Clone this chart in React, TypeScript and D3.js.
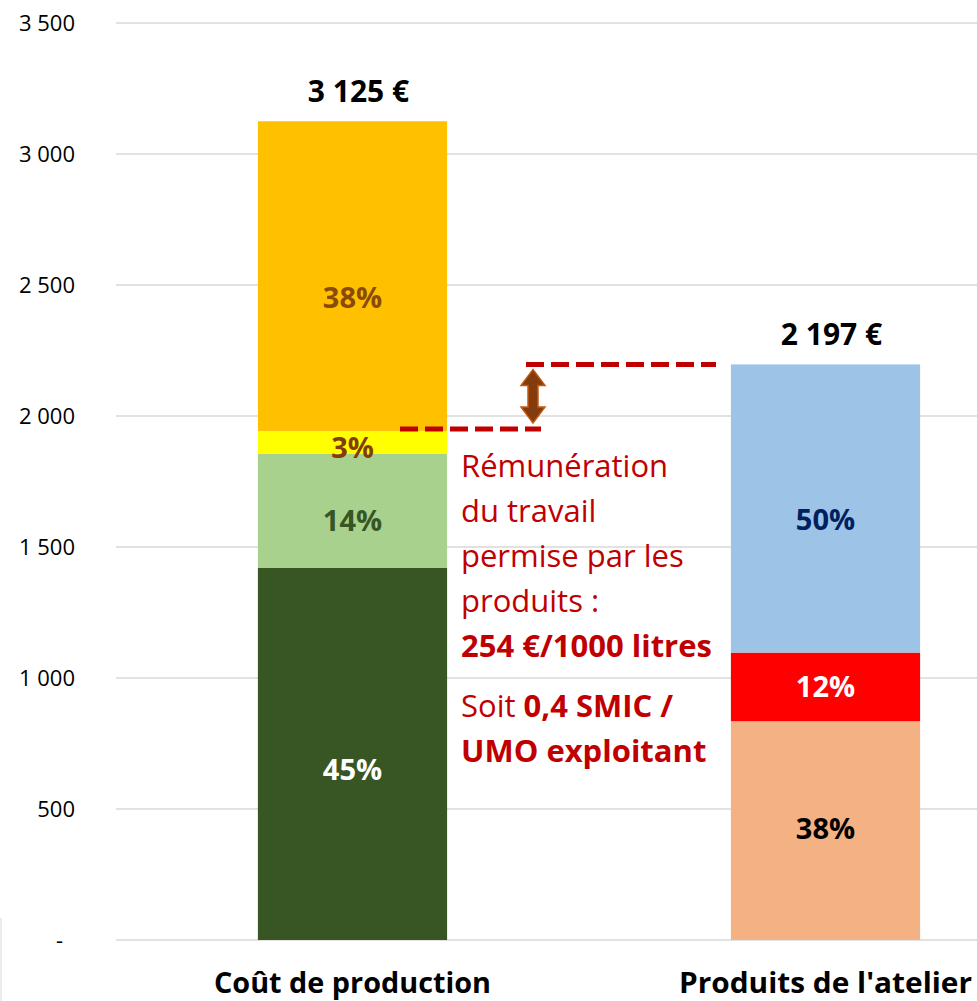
import React from "react";
import * as d3 from "d3";

const categories = ["Coût de production", "Produits de l'atelier"];
const costValues = [1420, 435, 88, 1182];
const costLabels = ["45%", "14%", "3%", "38%"];
const productValues = [835, 262, 1100];
const productLabels = ["38%", "12%", "50%"];
const totals = ["3 125 €", "2 197 €"];
const yTicks = [0, 500, 1000, 1500, 2000, 2500, 3000, 3500];
const yTickLabels = ["-", "500", "1 000", "1 500", "2 000", "2 500", "3 000", "3 500"];
const gapLow = 1950;
const gapHigh = 2197;

const costColors = ["#375623", "#A9D18E", "#FFFF00", "#FFC000"];
const costTextColors = ["#FFFFFF", "#375623", "#843C0C", "#8A4A0B"];
const productColors = ["#F4B183", "#FF0000", "#9DC3E6"];
const productTextColors = ["#000000", "#FFFFFF", "#002060"];
// label vertical nudges (px) to match the reference's placement
const costLabelNudge = [16, 10, 5, 21];
const productLabelNudge = [-2, 0, 11];

const W = 977;
const H = 1001;
const FONT = "'Open Sans', Lato, sans-serif";

export default function App() {
  const y = d3.scaleLinear().domain([0, 3500]).range([940, 23]);
  const x = d3.scaleBand<string>().domain(categories).range([116, 1062]).paddingInner(0.6).paddingOuter(0.3);
  const bw = x.bandwidth();

  const stackSeg = (vals: number[]) => {
    let acc = 0;
    return vals.map((v) => {
      const s = { y0: acc, y1: acc + v };
      acc += v;
      return s;
    });
  };
  const costSegs = stackSeg(costValues);
  const prodSegs = stackSeg(productValues);
  const bars = [
    { segs: costSegs, colors: costColors, labels: costLabels, tcol: costTextColors, nudge: costLabelNudge },
    { segs: prodSegs, colors: productColors, labels: productLabels, tcol: productTextColors, nudge: productLabelNudge },
  ];

  const yLow = y(gapLow);
  const yHigh = y(gapHigh);
  const arrowX = 533;

  const red = "#C00000";
  const annLines: { y: number; parts: { t: string; b: boolean }[] }[] = [
    { y: 477, parts: [{ t: "Rémunération", b: false }] },
    { y: 522, parts: [{ t: "du travail", b: false }] },
    { y: 567, parts: [{ t: "permise par les", b: false }] },
    { y: 612, parts: [{ t: "produits :", b: false }] },
    { y: 657, parts: [{ t: "254 €/1000 litres", b: true }] },
    { y: 717, parts: [{ t: "Soit ", b: false }, { t: "0,4 SMIC /", b: true }] },
    { y: 762, parts: [{ t: "UMO exploitant", b: true }] },
  ];

  const aTop = yHigh + 5;
  const aBot = yLow - 6;
  const arrowPath = `M ${arrowX} ${aTop} L ${arrowX + 12} ${aTop + 16} L ${arrowX + 5} ${aTop + 16} L ${arrowX + 5} ${aBot - 16} L ${arrowX + 12} ${aBot - 16} L ${arrowX} ${aBot} L ${arrowX - 12} ${aBot - 16} L ${arrowX - 5} ${aBot - 16} L ${arrowX - 5} ${aTop + 16} L ${arrowX - 12} ${aTop + 16} Z`;

  return (
    <svg width={W} height={H} style={{ position: "absolute", left: 0, top: 0, background: "#fff" }} fontFamily={FONT}>
      <rect x={0} y={0} width={W} height={H} fill="#fff" />
      <line x1={1} x2={1} y1={918} y2={H} stroke="#d9d9d9" strokeWidth={1} />
      {yTicks.map((t, i) => (
        <g key={t}>
          <line x1={116} x2={W} y1={y(t)} y2={y(t)} stroke="#d9d9d9" strokeWidth={1.5} />
          <text x={i === 0 ? 63 : 75} y={y(t)} dy="0.35em" textAnchor="end" fontSize={22} fill="#000">
            {yTickLabels[i]}
          </text>
        </g>
      ))}
      {bars.map((b, bi) => {
        const bx = x(categories[bi])!;
        return (
          <g key={bi}>
            {b.segs.map((s, si) => (
              <rect key={si} x={bx} y={y(s.y1)} width={bw} height={y(s.y0) - y(s.y1)} fill={b.colors[si]} />
            ))}
            {b.segs.map((s, si) => (
              <text
                key={"t" + si}
                x={bx + bw / 2}
                y={(y(s.y0) + y(s.y1)) / 2 + b.nudge[si]}
                dy="0.36em"
                textAnchor="middle"
                fontSize={29}
                fontWeight="bold"
                fill={b.tcol[si]}
              >
                {b.labels[si]}
              </text>
            ))}
            <text
              x={bx + bw / 2 + 6}
              y={y(b.segs[b.segs.length - 1].y1) - 19}
              textAnchor="middle"
              fontSize={30}
              fontWeight="bold"
              fill="#000"
            >
              {totals[bi]}
            </text>
            <text
              x={bx + bw / 2}
              y={993}
              textAnchor="middle"
              fontSize={29}
              fontWeight="bold"
              fill="#000"
              textLength={bi === 0 ? 277 : 293}
              lengthAdjust="spacingAndGlyphs"
            >
              {categories[bi]}
            </text>
          </g>
        );
      })}
      <line x1={400} x2={541} y1={yLow} y2={yLow} stroke={red} strokeWidth={5} strokeDasharray="18 7" />
      <line x1={526} x2={716} y1={yHigh} y2={yHigh} stroke={red} strokeWidth={5} strokeDasharray="18 7" />
      <path d={arrowPath} fill="#843C0C" stroke="#C55A11" strokeWidth={1.5} />
      {annLines.map((l, i) => (
        <text key={i} x={461} y={l.y} fontSize={31} fill={red}>
          {l.parts.map((p, j) => (
            <tspan key={j} fontWeight={p.b ? "bold" : "normal"}>
              {p.t}
            </tspan>
          ))}
        </text>
      ))}
    </svg>
  );
}
